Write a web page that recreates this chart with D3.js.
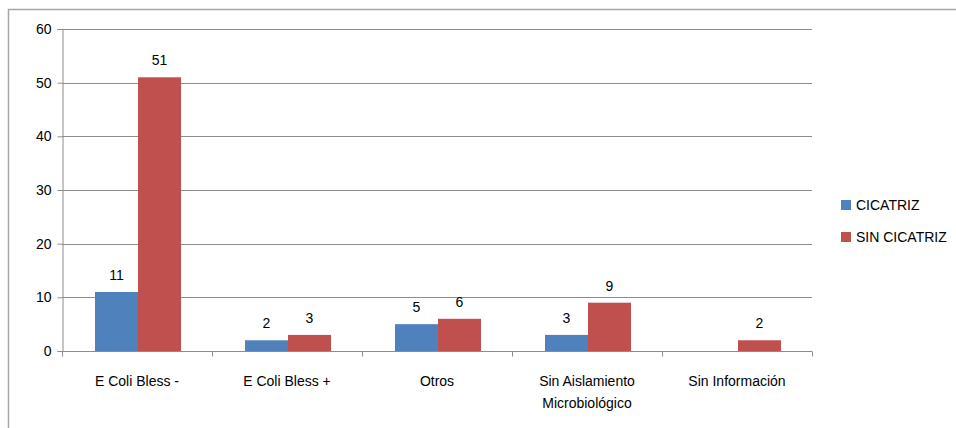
<!DOCTYPE html>
<html><head><meta charset="utf-8">
<script src="https://cdn.jsdelivr.net/npm/d3@7"></script>
<style>body{margin:0;background:#fff}svg{display:block}text{font-family:"Liberation Sans",Arial,sans-serif}</style>
</head><body><svg id="c" width="956" height="428"></svg>
<script>
const categories = [["E Coli Bless -"],["E Coli Bless +"],["Otros"],["Sin Aislamiento","Microbiológico"],["Sin Información"]];
const seriesNames = ["CICATRIZ","SIN CICATRIZ"];
const cicatriz = [11,2,5,3,null];
const sinCicatriz = [51,3,6,9,2];
const yTicks = [0,10,20,30,40,50,60];
const colors = ["#4f81bd","#c0504d"];

const svg = d3.select("#c");
const m = {l:62,r:812,t:29,b:351};
svg.append("rect").attr("x",8.5).attr("y",9.5).attr("width",1000).attr("height",1000)
  .attr("fill","none").attr("stroke","#a6a6a6").attr("stroke-width",1.5);

const x = d3.scaleBand().domain(d3.range(categories.length)).range([m.l,m.r]).paddingInner(0).paddingOuter(0);
const y = d3.scaleLinear().domain([0,60]).range([m.b,m.t]);
const inner = d3.scaleBand().domain([0,1]).range([33,119]);

// gridlines
svg.append("g").selectAll("line").data(yTicks.filter(d=>d>0)).join("line")
  .attr("x1",m.l).attr("x2",m.r).attr("y1",d=>Math.round(y(d))+0.5).attr("y2",d=>Math.round(y(d))+0.5)
  .attr("stroke","#8c8c8c").attr("stroke-width",1);

const yAxis = d3.axisLeft(y).tickValues(yTicks).tickSize(5).tickPadding(6);
const gy = svg.append("g").attr("transform",`translate(${m.l+0.5},0)`).call(yAxis);
gy.select(".domain").attr("stroke","#8c8c8c");
gy.selectAll(".tick line").attr("stroke","#8c8c8c");
gy.selectAll(".tick text").attr("font-size",14).attr("fill","#000").attr("font-family","Liberation Sans, Arial, sans-serif");

// bars
const series = [cicatriz, sinCicatriz];
series.forEach((vals,si)=>{
  const g = svg.append("g");
  g.selectAll("rect").data(vals.map((v,i)=>({v,i})).filter(d=>d.v!=null)).join("rect")
    .attr("x",d=>x(d.i)+inner(si)).attr("width",inner.bandwidth())
    .attr("y",d=>y(d.v)).attr("height",d=>y(0)-y(d.v)).attr("fill",colors[si]);
  g.selectAll("text").data(vals.map((v,i)=>({v,i})).filter(d=>d.v!=null)).join("text")
    .attr("x",d=>x(d.i)+inner(si)+inner.bandwidth()/2).attr("y",d=>y(d.v)-12)
    .attr("text-anchor","middle").attr("font-size",14).attr("fill","#000").text(d=>d.v);
});

// x axis
const xAxisG = svg.append("g").attr("transform",`translate(0,${m.b+0.5})`);
xAxisG.append("line").attr("x1",m.l).attr("x2",m.r).attr("stroke","#8c8c8c");
xAxisG.selectAll("line.t").data(d3.range(categories.length+1)).join("line").attr("class","t")
  .attr("x1",i=>Math.round(m.l+i*x.bandwidth())+0.5).attr("x2",i=>Math.round(m.l+i*x.bandwidth())+0.5)
  .attr("y1",0).attr("y2",5).attr("stroke","#8c8c8c");
const lab = svg.append("g").selectAll("text").data(categories).join("text")
  .attr("x",(d,i)=>x(i)+x.bandwidth()/2).attr("y",386).attr("text-anchor","middle")
  .attr("font-size",14).attr("fill","#000");
lab.selectAll("tspan").data(d=>d).join("tspan")
  .attr("x",function(){return this.parentNode.getAttribute("x");})
  .attr("dy",(d,i)=>i?22:0).text(d=>d);

// legend
const leg = svg.append("g").selectAll("g").data(seriesNames).join("g")
  .attr("transform",(d,i)=>`translate(841,${200+i*32})`);
leg.append("rect").attr("width",10).attr("height",10).attr("fill",(d,i)=>colors[i]);
leg.append("text").attr("x",15).attr("y",10).attr("font-size",14).attr("fill","#000").text(d=>d);
</script></body></html>
